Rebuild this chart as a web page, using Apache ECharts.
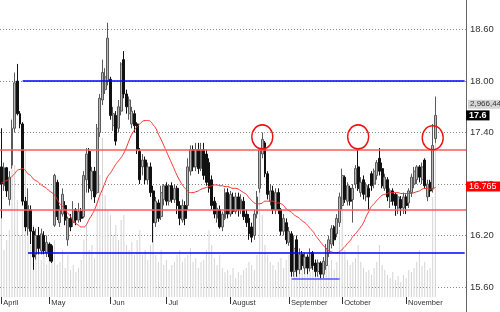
<!DOCTYPE html>
<html>
<head>
<meta charset="utf-8">
<script src="https://cdn.jsdelivr.net/npm/echarts@6/dist/echarts.min.js"></script>
<style>html,body{margin:0;padding:0;background:#fff}#c{width:500px;height:312px}</style>
</head>
<body>
<div id="c"></div>
<script>
// ---- data ----
const openP = [17.00,16.78,16.99,16.62,17.02,17.45,18.00,17.62,17.50,16.60,16.28,16.50,16.25,15.98,16.20,16.02,16.20,16.00,16.10,16.08,
16.32,16.82,16.35,16.45,16.55,16.15,16.40,16.35,16.50,16.38,16.48,16.42,16.85,17.18,16.72,16.95,16.70,17.40,17.78,17.90,
18.00,18.02,17.48,17.60,17.45,17.65,18.25,17.85,17.62,17.50,17.62,17.50,17.18,17.00,17.08,16.85,17.00,16.72,16.35,16.58,
16.42,16.62,16.78,16.60,16.78,16.62,16.75,16.55,16.38,16.55,16.55,16.95,17.20,17.00,17.20,16.98,17.20,17.15,17.05,16.85,
16.60,16.40,16.50,16.30,16.40,16.70,16.45,16.65,16.48,16.65,16.50,16.60,16.45,16.40,16.30,16.20,16.45,16.75,17.15,17.28,
16.92,16.60,16.72,16.50,16.70,16.50,16.25,16.35,16.12,16.22,15.78,16.15,15.80,15.98,15.82,15.95,15.82,16.00,15.88,15.78,
15.88,15.75,15.85,16.00,16.10,16.30,16.22,16.35,16.55,16.88,16.60,16.75,16.62,16.80,17.00,16.70,16.85,16.65,16.75,16.92,
16.80,16.90,17.10,16.98,16.75,16.85,16.60,16.72,16.68,16.52,16.62,16.52,16.65,16.58,16.70,16.80,16.85,17.00,16.85,17.08,
16.65,16.82,16.75,17.33];
const highP = [17.45,17.05,17.00,16.95,17.55,18.10,18.20,17.65,17.52,16.65,16.75,16.55,16.30,16.28,16.30,16.28,16.25,16.20,16.12,16.10,
16.92,16.85,16.55,16.75,16.60,16.42,16.45,16.60,16.52,16.58,16.52,16.95,17.22,17.22,17.00,17.00,17.50,17.85,18.25,18.15,
18.68,18.05,17.70,17.65,17.78,18.22,18.35,17.90,17.82,17.70,17.66,17.52,17.22,17.15,17.12,17.05,17.05,16.78,16.65,16.62,
16.78,16.80,16.82,16.80,16.82,16.80,16.78,16.60,16.62,16.60,17.10,17.25,17.25,17.28,17.28,17.28,17.28,17.20,17.10,16.90,
16.65,16.58,16.55,16.48,16.75,16.75,16.72,16.70,16.70,16.70,16.68,16.65,16.50,16.45,16.35,16.50,16.72,17.22,17.40,17.30,
16.95,16.80,16.78,16.75,16.75,16.52,16.45,16.40,16.30,16.25,16.20,16.20,16.05,16.02,16.00,15.98,16.05,16.02,15.92,15.92,
15.90,15.95,16.10,16.20,16.32,16.32,16.45,16.70,16.98,16.90,16.82,16.78,16.80,17.02,17.20,16.88,16.90,16.82,16.80,16.95,
16.98,17.08,17.22,17.05,16.92,16.88,16.75,16.75,16.70,16.68,16.66,16.70,16.68,16.75,16.92,17.00,17.02,17.02,17.05,17.10,
16.85,16.85,17.50,17.82];
const lowP = [16.40,16.72,16.65,16.55,16.98,17.40,17.60,17.45,16.55,16.25,16.20,16.10,15.80,15.92,15.98,15.98,15.98,15.95,15.90,15.88,
16.30,16.38,16.30,16.42,16.32,16.08,16.25,16.30,16.32,16.35,16.36,16.40,16.70,16.70,16.62,16.58,16.68,17.35,17.72,17.85,
17.95,17.55,17.42,17.25,17.40,17.60,17.80,17.62,17.55,17.45,17.40,17.15,16.80,16.90,16.80,16.80,16.65,16.12,16.30,16.36,
16.38,16.55,16.55,16.55,16.58,16.58,16.45,16.32,16.35,16.32,16.50,16.90,16.95,16.95,16.92,16.95,16.85,16.78,16.70,16.50,
16.40,16.35,16.28,16.25,16.38,16.40,16.42,16.45,16.45,16.42,16.45,16.38,16.30,16.15,16.12,16.15,16.40,16.70,17.10,16.88,
16.62,16.55,16.45,16.45,16.45,16.20,16.20,16.10,16.08,15.72,15.72,15.72,15.75,15.80,15.75,15.75,15.78,15.80,15.72,15.72,
15.70,15.70,15.80,15.95,16.05,16.08,16.18,16.30,16.50,16.58,16.55,16.55,16.35,16.75,16.72,16.65,16.62,16.60,16.50,16.72,
16.75,16.85,16.90,16.75,16.72,16.60,16.52,16.55,16.43,16.45,16.43,16.45,16.45,16.52,16.65,16.75,16.80,16.82,16.80,16.75,
16.60,16.65,16.70,17.28];
const closeP = [16.80,16.99,16.72,16.88,17.45,17.98,17.62,17.50,16.60,16.30,16.55,16.25,15.95,16.20,16.05,16.22,16.02,16.12,15.95,15.90,
16.90,16.42,16.50,16.68,16.38,16.40,16.30,16.50,16.38,16.48,16.40,16.90,17.15,16.75,16.95,16.65,17.45,17.80,18.10,18.05,
18.50,17.60,17.62,17.30,17.70,18.20,17.85,17.70,17.78,17.65,17.48,17.20,16.85,17.08,16.85,17.00,16.70,16.35,16.60,16.40,
16.70,16.78,16.60,16.78,16.62,16.75,16.55,16.40,16.55,16.40,17.00,17.20,17.00,17.20,16.98,17.20,16.90,16.82,16.75,16.55,
16.45,16.52,16.30,16.45,16.70,16.45,16.68,16.48,16.65,16.50,16.62,16.42,16.35,16.22,16.18,16.45,16.65,17.20,17.32,16.92,
16.68,16.72,16.50,16.70,16.50,16.25,16.40,16.15,16.25,15.78,16.05,15.80,15.98,15.85,15.95,15.82,16.00,15.85,15.78,15.88,
15.75,15.90,16.05,16.15,16.28,16.15,16.40,16.65,16.90,16.62,16.78,16.60,16.75,16.98,16.75,16.82,16.68,16.78,16.65,16.78,
16.95,17.05,16.95,16.78,16.88,16.65,16.72,16.60,16.55,16.65,16.52,16.65,16.55,16.72,16.88,16.95,17.00,16.88,17.00,16.78,
16.80,16.72,17.25,17.60];
const movingAvg = [16.81,16.83,16.84,16.86,16.89,16.92,16.96,16.97,16.98,16.96,16.92,16.90,16.86,16.84,16.82,16.79,16.77,16.75,16.72,16.70,
16.67,16.62,16.57,16.54,16.49,16.46,16.42,16.37,16.34,16.32,16.30,16.30,16.33,16.39,16.44,16.50,16.58,16.67,16.74,16.82,
16.89,16.93,16.98,17.03,17.07,17.11,17.16,17.23,17.31,17.38,17.43,17.47,17.50,17.53,17.54,17.54,17.53,17.49,17.45,17.38,
17.32,17.25,17.18,17.11,17.04,16.97,16.90,16.84,16.79,16.75,16.72,16.70,16.70,16.71,16.72,16.74,16.75,16.76,16.77,16.78,
16.79,16.79,16.78,16.78,16.77,16.77,16.76,16.75,16.75,16.74,16.72,16.70,16.68,16.64,16.61,16.58,16.57,16.57,16.58,16.60,
16.60,16.60,16.60,16.58,16.58,16.57,16.55,16.51,16.49,16.47,16.44,16.42,16.40,16.37,16.35,16.32,16.28,16.25,16.20,16.16,
16.12,16.08,16.05,16.02,16.01,16.00,16.00,16.01,16.04,16.07,16.11,16.14,16.19,16.22,16.26,16.30,16.35,16.42,16.48,16.54,
16.57,16.61,16.64,16.67,16.68,16.69,16.70,16.70,16.70,16.70,16.69,16.69,16.69,16.69,16.69,16.70,16.71,16.72,16.74,16.75,
16.75,16.74,16.74,16.765];
const volume = [1723000,723000,877000,1031000,2416000,2031000,1493000,954000,1339000,2262000,1031000,800000,1108000,646000,723000,569000,646000,492000,723000,646000,
877000,492000,539000,723000,446000,646000,415000,492000,385000,446000,569000,877000,1108000,723000,800000,600000,1493000,1877000,2447000,1570000,
1339000,1262000,954000,1108000,877000,1185000,1262000,800000,723000,846000,646000,877000,1031000,646000,723000,569000,800000,1108000,646000,539000,
723000,492000,569000,415000,492000,539000,646000,723000,539000,600000,646000,754000,539000,600000,446000,539000,569000,723000,1031000,800000,
600000,492000,646000,446000,385000,415000,339000,446000,292000,385000,339000,415000,446000,539000,492000,415000,646000,1677000,1262000,800000,
646000,539000,492000,415000,539000,600000,446000,569000,646000,723000,539000,600000,492000,415000,539000,446000,385000,492000,415000,339000,
446000,539000,646000,492000,569000,415000,539000,1031000,1416000,723000,569000,492000,539000,600000,800000,539000,446000,385000,415000,339000,
446000,539000,800000,492000,415000,339000,292000,385000,262000,323000,231000,339000,292000,415000,385000,446000,539000,723000,477000,539000,
415000,446000,1539000,2966440];
const slotCount = 175;                 // trading-day slots on the x axis (incl. empty right margin)
const monthNames = ['April','May','Jun','Jul','August','September','October','November'];
const monthStart = [0,18,41,62,86,108,128,152];
const priceTicks = {min: 15.0, max: 19.2, step: 0.6};
const resistance = [17.20, 16.50];     // red horizontal levels
const blueLevels = [[8, 18.00], [10, 16.00]];   // [start slot, price]
const septLow = [109, 127, 15.70];
const circles = [[98, 17.35], [134, 17.35], [162, 17.34]];

// ---- build ----
const cats = [];
for (let i = 0; i < slotCount; i++) cats.push(String(i));
const candles = openP.map((o, i) => [o, closeP[i], lowP[i], highP[i]]);
const last = closeP.length - 1;
const font = 'Liberation Sans, Arial, sans-serif';
const isMonth = (i) => monthStart.indexOf(i) >= 0;
const hidden = {color: 'rgba(0,0,0,0)', width: 1, type: 'solid'};

const chart = echarts.init(document.getElementById('c'), null, {renderer: 'canvas'});
const pxPerUnit = 85.8;
const priceTop = 287 + (15.6 - priceTicks.min) * pxPerUnit - (priceTicks.max - priceTicks.min) * pxPerUnit;
chart.setOption({
  animation: false,
  backgroundColor: '#fff',
  grid: [
    {left: 0, right: 34, top: priceTop, height: (priceTicks.max - priceTicks.min) * pxPerUnit, outerBoundsMode: 'none', containLabel: false},
    {left: 0, right: 34, top: 0, bottom: 15, outerBoundsMode: 'none', containLabel: false}
  ],
  xAxis: [
    {type: 'category', gridIndex: 0, data: cats, boundaryGap: true, show: false},
    {type: 'category', gridIndex: 1, data: cats, boundaryGap: true,
     axisLine: {show: false},
     axisTick: {show: true, alignWithLabel: true, interval: isMonth, length: 7, lineStyle: {color: '#333', width: 1}},
     axisLabel: {interval: isMonth, formatter: (v, i) => monthNames[monthStart.indexOf(Number(v))] || '',
       align: 'left', padding: [0, 0, 0, 2], margin: 2, fontSize: 7.5, color: '#333', fontFamily: font},
     splitLine: {show: false}}
  ],
  yAxis: [
    {type: 'value', gridIndex: 0, position: 'right', min: priceTicks.min, max: priceTicks.max, interval: priceTicks.step,
     axisLine: {show: true, lineStyle: {color: '#666', width: 1}},
     axisTick: {show: false},
     axisLabel: {formatter: v => v.toFixed(2), margin: 4, fontSize: 9.5, color: '#333', fontFamily: font},
     splitLine: {show: true, lineStyle: {color: '#888', type: [1, 2], width: 1}}},
    {type: 'value', gridIndex: 1, min: 0, max: 4570000, show: false, splitLine: {show: false}}
  ],
  series: [
    {type: 'bar', xAxisIndex: 1, yAxisIndex: 1, data: volume, barWidth: 1, itemStyle: {color: '#d4d4d4'}, z: 1,
     markLine: {silent: true, symbol: ['none', 'none'], lineStyle: hidden,
       data: [{yAxis: volume[last]}],
       label: {show: true, position: 'end', distance: 2, formatter: () => volume[last].toLocaleString('en-US'),
         backgroundColor: '#d6d6d6', color: '#333', fontSize: 8, fontFamily: font, padding: [1, 1, 0, 2]}}},
    {type: 'candlestick', xAxisIndex: 0, yAxisIndex: 0, data: candles, barWidth: 2.4, z: 3,
     itemStyle: {color: '#b8b8b8', borderColor: '#5a5a5a', color0: '#111', borderColor0: '#111', borderWidth: 1},
     markLine: {silent: true, symbol: ['none', 'none'], label: {show: false},
       data: [
         {yAxis: resistance[0], lineStyle: {color: '#ff5a5a', width: 1.5, type: 'solid'}},
         {yAxis: resistance[1], lineStyle: {color: '#ff5a5a', width: 1.5, type: 'solid'}},
         [{coord: [blueLevels[0][0], blueLevels[0][1]], lineStyle: {color: '#0000ff', width: 1.5, type: 'solid'}}, {coord: [slotCount - 1, blueLevels[0][1]]}],
         [{coord: [blueLevels[1][0], blueLevels[1][1]], lineStyle: {color: '#0000ff', width: 1.5, type: 'solid'}}, {coord: [slotCount - 1, blueLevels[1][1]]}],
         [{coord: [septLow[0], septLow[2]], lineStyle: {color: '#4a5cff', width: 1.5, type: 'solid'}}, {coord: [septLow[1], septLow[2]]}],
         {yAxis: closeP[last], lineStyle: hidden,
          label: {show: true, position: 'end', distance: 0, formatter: () => closeP[last].toFixed(1),
            backgroundColor: '#000', color: '#fff', fontWeight: 'bold', fontSize: 9, fontFamily: font, padding: [1, 3, 0, 3]}}
       ]},
     markPoint: {silent: true, symbol: 'circle', symbolSize: [21, 24], label: {show: false},
       itemStyle: {color: 'rgba(0,0,0,0)', borderColor: '#ee1111', borderWidth: 1.5},
       data: circles.map(c => ({coord: c}))}},
    {type: 'line', xAxisIndex: 0, yAxisIndex: 0, data: movingAvg, symbol: 'none', smooth: true, z: 4,
     lineStyle: {color: '#ff2a2a', width: 1},
     markLine: {silent: true, symbol: ['none', 'none'], lineStyle: hidden,
       data: [{yAxis: movingAvg[last]}],
       label: {show: true, position: 'end', distance: 0, formatter: () => String(movingAvg[last]),
         backgroundColor: '#ff0000', color: '#fff', fontSize: 9, fontFamily: font, padding: [1, 4, 0, 3]}}}
  ]
});
</script>
</body>
</html>
